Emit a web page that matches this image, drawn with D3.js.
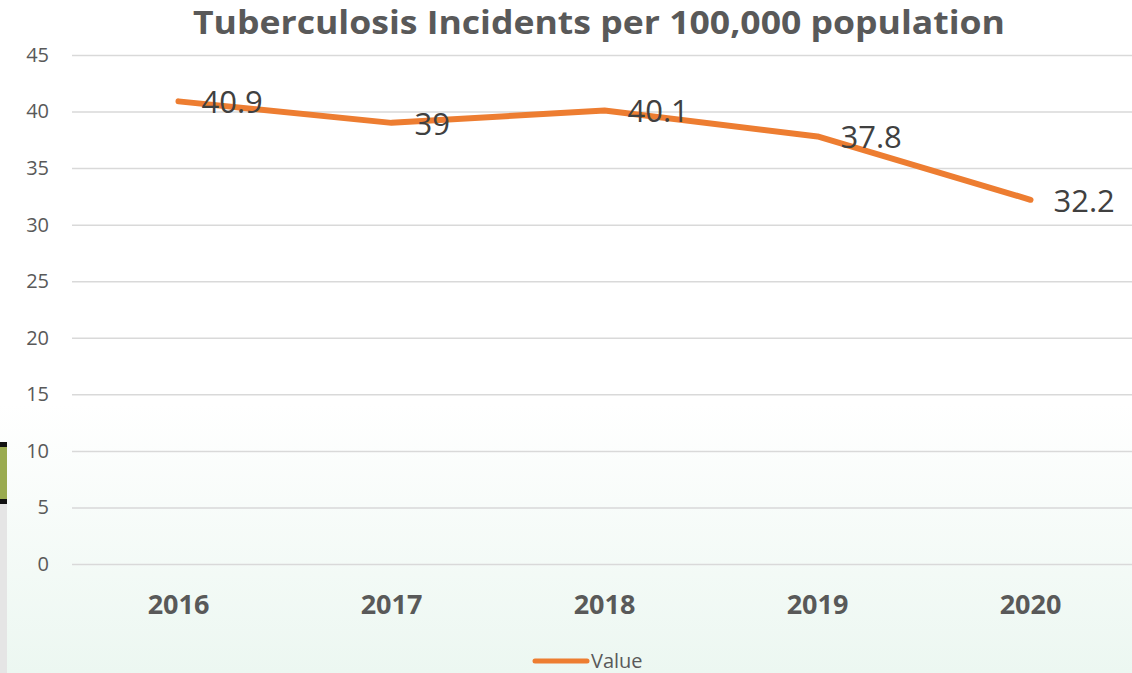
<!DOCTYPE html>
<html lang="en">
<head>
<meta charset="UTF-8">
<title>Tuberculosis Incidents</title>
<script src="https://cdn.jsdelivr.net/npm/d3@7"></script>
<style>
  body { margin: 0; background: #fff; }
  svg { display: block; font-family: "Open Sans", sans-serif; }
</style>
</head>
<body>
<svg width="1132" height="673" id="mainsvg"></svg>
<script>
  // chart data
  const years = ['2016', '2017', '2018', '2019', '2020'];
  const values = [40.9, 39, 40.1, 37.8, 32.2];
  const yTicks = [0, 5, 10, 15, 20, 25, 30, 35, 40, 45];
  const seriesName = 'Value';
  const title = 'Tuberculosis Incidents per 100,000 population';

  const svg = d3.select('#mainsvg');
  const width = +svg.attr('width');
  const height = +svg.attr('height');

  // background fade to pale green
  const defs = svg.append('defs');
  const grad = defs.append('linearGradient').attr('id', 'bg')
    .attr('x1', 0).attr('y1', 0).attr('x2', 0).attr('y2', 1);
  grad.append('stop').attr('offset', '0%').attr('stop-color', '#ffffff');
  grad.append('stop').attr('offset', '60%').attr('stop-color', '#ffffff');
  grad.append('stop').attr('offset', '100%').attr('stop-color', '#ecf7f1');
  svg.append('rect').attr('width', width).attr('height', height).attr('fill', 'url(#bg)');

  // leftover slide pieces at left edge
  svg.append('rect').attr('x', 0).attr('y', 503).attr('width', 7).attr('height', height - 503).attr('fill', '#e5e5e5');
  svg.append('rect').attr('x', 0).attr('y', 446).attr('width', 7).attr('height', 54).attr('fill', '#9aab50');
  svg.append('rect').attr('x', 0).attr('y', 442).attr('width', 7).attr('height', 5).attr('fill', '#111');
  svg.append('rect').attr('x', 0).attr('y', 499).attr('width', 7).attr('height', 5).attr('fill', '#111');

  const plotLeft = 72, plotRight = 1137, plotTop = 55, plotBottom = 564;

  const x = d3.scaleBand().domain(years).range([plotLeft, plotRight]);
  const y = d3.scaleLinear().domain([0, 45]).range([plotBottom, plotTop]);

  // y axis + gridlines
  const yAxis = svg.append('g')
    .attr('transform', `translate(${plotLeft},0)`)
    .call(d3.axisLeft(y).tickValues(yTicks).tickSizeInner(-(width - plotLeft)).tickSizeOuter(0).tickPadding(23));
  yAxis.select('.domain').remove();
  yAxis.selectAll('.tick line').attr('stroke', '#d9d9d9').attr('stroke-width', 1.5);
  yAxis.selectAll('.tick text')
    .attr('fill', '#595959')
    .attr('font-size', '20px')
    .attr('font-family', '"Open Sans", sans-serif');

  // x axis labels
  const xAxis = svg.append('g')
    .attr('transform', `translate(0,${plotBottom})`)
    .call(d3.axisBottom(x).tickSize(0).tickPadding(0));
  xAxis.select('.domain').remove();
  xAxis.selectAll('.tick text')
    .attr('y', 50).attr('dy', 0)
    .attr('fill', '#595959')
    .attr('font-size', '27px')
    .attr('font-weight', 'bold')
    .attr('font-family', '"Open Sans", sans-serif');

  // line
  const pts = years.map((yr, i) => ({ yr: yr, v: values[i] }));
  const line = d3.line().x(d => x(d.yr) + x.bandwidth() / 2).y(d => y(d.v));
  svg.append('path').datum(pts)
    .attr('d', line)
    .attr('fill', 'none')
    .attr('stroke', '#ed7d31')
    .attr('stroke-width', 6)
    .attr('stroke-linecap', 'round')
    .attr('stroke-linejoin', 'round');

  // data labels, right of each point
  svg.selectAll('text.lbl').data(pts).enter()
    .append('text').attr('class', 'lbl')
    .attr('x', d => x(d.yr) + x.bandwidth() / 2 + 23)
    .attr('y', d => y(d.v) + 12)
    .attr('fill', '#404040')
    .attr('font-size', '31px')
    .text(d => d.v);

  // title
  svg.append('text')
    .attr('x', 599).attr('y', 34)
    .attr('text-anchor', 'middle')
    .attr('fill', '#595959')
    .attr('font-size', '33px')
    .attr('font-weight', 'bold')
    .attr('textLength', 812)
    .attr('lengthAdjust', 'spacingAndGlyphs')
    .text(title);

  // legend
  svg.append('line')
    .attr('x1', 535).attr('x2', 587).attr('y1', 661).attr('y2', 661)
    .attr('stroke', '#ed7d31').attr('stroke-width', 5).attr('stroke-linecap', 'round');
  svg.append('text')
    .attr('x', 591).attr('y', 668)
    .attr('fill', '#595959')
    .attr('font-size', '20px')
    .text(seriesName);
</script>
</body>
</html>
